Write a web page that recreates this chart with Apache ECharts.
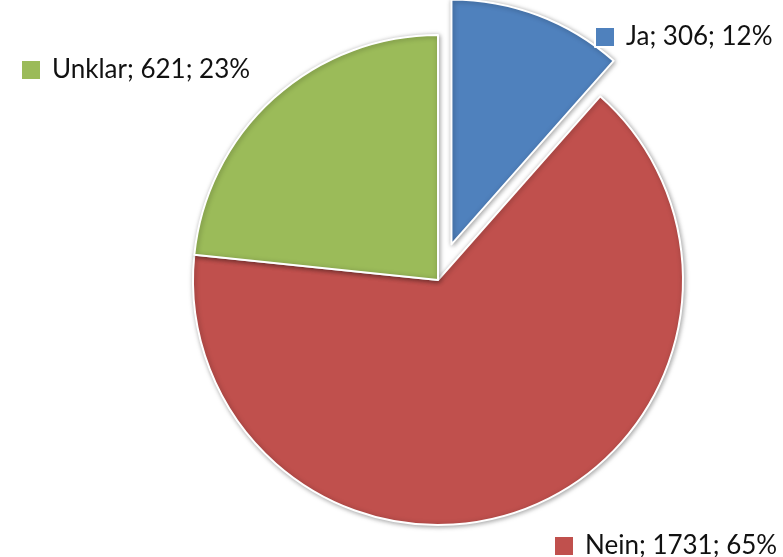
<!DOCTYPE html>
<html>
<head>
<meta charset="utf-8">
<script src="https://cdn.jsdelivr.net/npm/echarts@6/dist/echarts.min.js"></script>
<style>
  html, body { margin: 0; padding: 0; background: #fff; }
  #chart { width: 783px; height: 557px; }
</style>
</head>
<body>
<div id="chart"></div>
<script>
const categories = ['Ja', 'Nein', 'Unklar'];
const counts = [306, 1731, 621];
const colors = ['#4F81BD', '#C0504D', '#9BBB59'];

const total = counts.reduce((a, b) => a + b, 0);
const pct = (i) => Math.round((counts[i] / total) * 100);

const chart = echarts.init(document.getElementById('chart'));

// one legend per slice, placed where the original labels sit
const legendPos = [
  { left: 589, top: 19 },
  { left: 548, top: 528 },
  { left: 15, top: 52 },
];

const option = {
  animation: false,
  legend: categories.map((name, i) => ({
    data: [name],
    left: legendPos[i].left,
    top: legendPos[i].top,
    icon: 'rect',
    itemWidth: 20,
    itemHeight: 20,
    selectedMode: false,
    textStyle: {
      fontFamily: 'Lato',
      fontSize: 26,
      color: '#111',
      padding: [0, 0, 0, 6],
    },
    formatter: (n) => {
      const idx = categories.indexOf(n);
      return n + '; ' + counts[idx] + '; ' + pct(idx) + '%';
    },
  })),
  series: [
    {
      type: 'pie',
      center: [438, 280],
      radius: 245,
      startAngle: 90,
      clockwise: true,
      selectedMode: 'single',
      selectedOffset: 38,
      label: { show: false },
      labelLine: { show: false },
      emphasis: { disabled: true },
      itemStyle: {
        borderColor: '#fff',
        borderWidth: 2,
        shadowBlur: 5,
        shadowColor: 'rgba(0,0,0,0.35)',
        shadowOffsetX: 1,
        shadowOffsetY: 1,
      },
      data: categories.map((name, i) => ({
        name,
        value: counts[i],
        selected: i === 0,
        itemStyle: { color: colors[i] },
      })),
    },
  ],
};

chart.setOption(option);
</script>
</body>
</html>
